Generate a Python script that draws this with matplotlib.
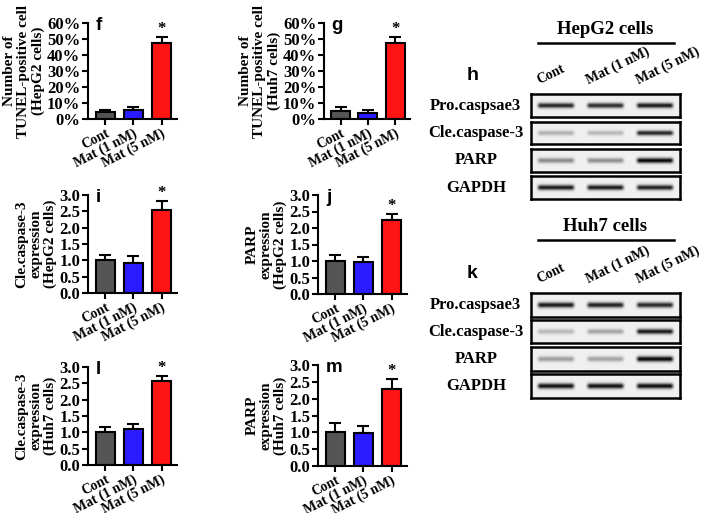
import numpy as np
import matplotlib
matplotlib.use("Agg")
import matplotlib.pyplot as plt
from matplotlib.lines import Line2D
from matplotlib.ticker import FixedLocator, FuncFormatter
from matplotlib.transforms import ScaledTranslation

W, H = 708, 513

# ---------------- data ----------------
categories = ["Cont", "Mat (1 nM)", "Mat (5 nM)"]
bar_colors = ["#555555", "#2b1cff", "#ff1414"]

tunel_hepg2 = [4.2, 5.6, 47.5]
tunel_hepg2_err = [1.4, 1.7, 3.6]
tunel_huh7 = [5.2, 3.6, 47.3]
tunel_huh7_err = [2.1, 2.0, 3.7]

cle_hepg2 = [1.00, 0.93, 2.55]
cle_hepg2_err = [0.15, 0.21, 0.28]
parp_hepg2 = [1.00, 0.96, 2.25]
parp_hepg2_err = [0.18, 0.15, 0.18]
cle_huh7 = [1.00, 1.09, 2.56]
cle_huh7_err = [0.17, 0.15, 0.15]
parp_huh7 = [1.00, 0.97, 2.28]
parp_huh7_err = [0.27, 0.21, 0.29]

pct_ticks = [0, 10, 20, 30, 40, 50, 60]
fold_ticks = [0.0, 0.5, 1.0, 1.5, 2.0, 2.5, 3.0]

blot_proteins = ["Pro.caspsae3", "Cle.caspase-3", "PARP", "GAPDH"]
hepg2_band_intensity = [[0.80, 0.78, 0.85],
                        [0.25, 0.22, 0.80],
                        [0.40, 0.38, 0.92],
                        [0.85, 0.85, 0.82]]
huh7_band_intensity = [[0.85, 0.82, 0.80],
                       [0.22, 0.30, 0.85],
                       [0.32, 0.30, 0.92],
                       [0.88, 0.88, 0.90]]

SERIF = "Liberation Serif"
SANS = "Liberation Sans"
plt.rcParams["font.family"] = [SERIF, "DejaVu Serif"]
plt.rcParams["font.weight"] = "bold"

fig = plt.figure(figsize=(W / 100, H / 100), dpi=100)


def px_axes(x0, y0, x1, y1):
    return fig.add_axes([x0 / W, 1 - y1 / H, (x1 - x0) / W, (y1 - y0) / H])


def bar_panel(box, vals, errs, ticks, ylabel, letter, pct=False):
    ax = px_axes(*box)
    x = np.arange(len(categories))
    ax.bar(x, vals, width=0.7, color=bar_colors, edgecolor="black",
           linewidth=1.5, zorder=2)
    ax.errorbar(x, vals, yerr=[np.zeros(len(vals)), errs], fmt="none",
                ecolor="black", elinewidth=1.5, capsize=4.5, capthick=1.5,
                zorder=1)
    top = vals[2] + errs[2]
    ax.annotate("*", xy=(2, top), xytext=(0, 0), textcoords="offset points",
                ha="center", va="bottom", fontsize=12, fontweight="bold")
    ax.set_xlim(-0.62, 2.55)
    ax.set_ylim(ticks[0], ticks[-1])
    ax.yaxis.set_major_locator(FixedLocator(ticks))
    if pct:
        ax.yaxis.set_major_formatter(FuncFormatter(lambda v, p: f"{int(v)}%"))
    else:
        ax.yaxis.set_major_formatter(FuncFormatter(lambda v, p: f"{v:.1f}"))
    ax.set_xticks(x)
    ax.set_xticklabels(categories, rotation=27, ha="right", va="top",
                       rotation_mode="anchor", fontsize=10, fontweight="bold")
    shift = ScaledTranslation(7 / 100, 0, fig.dpi_scale_trans)
    for lab in ax.get_xticklabels():
        lab.set_transform(lab.get_transform() + shift)
    for lab in ax.get_yticklabels():
        lab.set_fontweight("bold")
        lab.set_fontsize(12)
    ax.spines["top"].set_visible(False)
    ax.spines["right"].set_visible(False)
    ax.spines["left"].set_linewidth(1.5)
    ax.spines["bottom"].set_linewidth(1.5)
    ax.tick_params(axis="both", direction="out", length=4, width=1.5, pad=1.5)
    ax.set_ylabel(ylabel, fontsize=11, fontweight="bold", linespacing=1.12,
                  labelpad=1.5)
    ax.text(0.09, 0.93, letter, transform=ax.transAxes, family=SANS,
            fontsize=13.5, fontweight="bold", ha="left", va="baseline")
    return ax


bar_panel((88, 23, 177, 119), tunel_hepg2, tunel_hepg2_err, pct_ticks,
          "Number of\nTUNEL-positive cell\n(HepG2 cells)", "f", pct=True)
bar_panel((324, 23, 410, 119), tunel_huh7, tunel_huh7_err, pct_ticks,
          "Number of\nTUNEL-positive cell\n(Huh7 cells)", "g", pct=True)
bar_panel((88, 195, 177, 293), cle_hepg2, cle_hepg2_err, fold_ticks,
          "Cle.caspase-3\nexpression\n(HepG2 cells)", "i")
bar_panel((318, 195, 407, 294), parp_hepg2, parp_hepg2_err, fold_ticks,
          "PARP\nexpression\n(HepG2 cells)", "j")
bar_panel((88, 367, 177, 465), cle_huh7, cle_huh7_err, fold_ticks,
          "Cle.caspase-3\nexpression\n(Huh7 cells)", "l")
bar_panel((318, 365, 407, 466), parp_huh7, parp_huh7_err, fold_ticks,
          "PARP\nexpression\n(Huh7 cells)", "m")


# ---------------- western blots ----------------
def band_image(intens, nx=300, ny=48):
    xs = np.linspace(0, 3, nx)
    ys = np.linspace(0, 1, ny)
    img = np.full((ny, nx), 0.06)
    gy = np.exp(-((ys - 0.5) ** 2) / (2 * 0.08 ** 2))
    for i, v in enumerate(intens):
        px = np.clip((0.40 - np.abs(xs - (i + 0.5))) / 0.08, 0, 1)
        img += v * np.outer(gy, px)
    return np.clip(img, 0, 1)


def blot(rows_y, intens_table, header, header_y, line_y, letter, letter_y):
    x0, x1 = 531, 680
    axes = []
    for (y0, y1), name, intens in zip(rows_y, blot_proteins, intens_table):
        ax = px_axes(x0, y0, x1, y1)
        ax.imshow(band_image(intens), cmap="gray_r", vmin=0, vmax=1,
                  aspect="auto", extent=(0, 3, 0, 1), interpolation="bilinear")
        ax.set_xticks([])
        ax.set_yticks([])
        for s in ax.spines.values():
            s.set_linewidth(1.8)
        ax.text(-0.37, 0.5, name, transform=ax.transAxes, ha="center",
                va="center", fontsize=12, fontweight="bold")
        axes.append(ax)
    top = axes[0]
    for i, lab in enumerate(categories):
        top.annotate(lab, xy=(i + 0.5, 1.0), xycoords=("data", "axes fraction"),
                     xytext=(-11, 5), textcoords="offset points", ha="left",
                     va="bottom", rotation=26, rotation_mode="anchor",
                     fontsize=10, fontweight="bold")
    fig.text(605 / W, 1 - header_y / H, header, ha="center", va="center",
             fontsize=13.5, fontweight="bold")
    fig.add_artist(Line2D([538 / W, 674 / W], [1 - line_y / H, 1 - line_y / H],
                          color="black", linewidth=1.8))
    fig.text(467 / W, 1 - letter_y / H, letter, ha="left", va="center",
             family=SANS, fontsize=14, fontweight="bold")


blot([(94, 117), (122, 144), (149, 172), (176, 199)], hepg2_band_intensity,
     "HepG2 cells", 29, 43, "h", 76)
blot([(293, 317), (320, 343), (347, 371), (374, 398)], huh7_band_intensity,
     "Huh7 cells", 227, 240, "k", 273)

fig.savefig("out.png", dpi=100)
